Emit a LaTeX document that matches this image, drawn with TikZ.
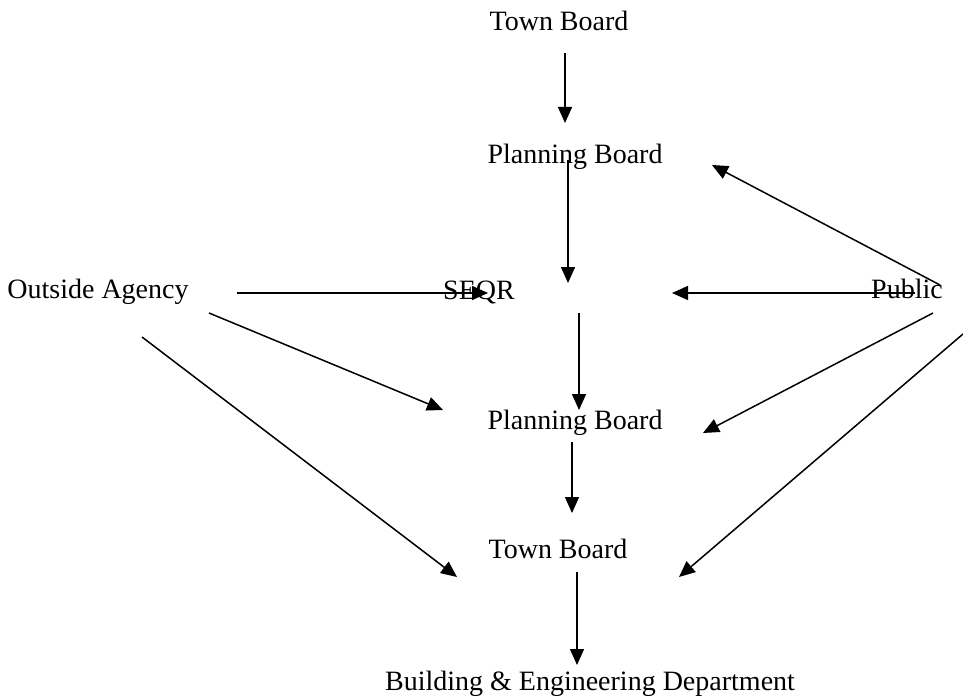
\documentclass[tikz,border=0pt]{standalone}
\usepackage{fontspec}
\setmainfont{Liberation Serif}
\usetikzlibrary{arrows.meta}
\tikzset{
  lbl/.style={anchor=base, inner sep=0pt, font=\fontsize{28}{34}\selectfont},
  flow/.style={line width=1.5pt, -{Triangle[length=16pt,width=14pt]}}
}
\begin{document}
\begin{tikzpicture}[x=1pt, y=-1pt]
  \useasboundingbox (0,0) rectangle (963,698);
  % labels
  \node[lbl] (tbA)    at (559,31)  {Town Board};
  \node[lbl] (pbA)    at (575,163) {Planning Board};
  \node[lbl] (seqr)   at (479,299) {SEQR};
  \node[lbl] (agency) at (98,298)  {Outside Agency};
  \node[lbl] (public) at (907,298) {Public};
  \node[lbl] (pbB)    at (575,429) {Planning Board};
  \node[lbl] (tbB)    at (558,558) {Town Board};
  \node[lbl] (bed)    at (590,690) {Building \& Engineering Department};
  % arrow ends
  \coordinate (a1s) at (565,53);  \coordinate (a1e) at (565,123);
  \coordinate (a2s) at (568,160); \coordinate (a2e) at (568,283);
  \coordinate (a3s) at (579,313); \coordinate (a3e) at (579,410);
  \coordinate (a4s) at (572,442); \coordinate (a4e) at (572,513);
  \coordinate (a5s) at (577,572); \coordinate (a5e) at (577,665);
  \coordinate (h1s) at (237,293); \coordinate (h1e) at (488,293);
  \coordinate (h2s) at (915,293); \coordinate (h2e) at (672,293);
  \coordinate (d1s) at (940,285); \coordinate (d1e) at (712,165);
  \coordinate (d2s) at (933,313); \coordinate (d2e) at (703,433);
  \coordinate (d3s) at (963,334); \coordinate (d3e) at (679,577);
  \coordinate (d4s) at (209,313); \coordinate (d4e) at (443,410);
  \coordinate (d5s) at (142,337); \coordinate (d5e) at (457,577);
  % arrows
  \draw[flow] (a1s) -- (a1e);
  \draw[flow] (a2s) -- (a2e);
  \draw[flow] (a3s) -- (a3e);
  \draw[flow] (a4s) -- (a4e);
  \draw[flow] (a5s) -- (a5e);
  \draw[flow] (h1s) -- (h1e);
  \draw[flow] (h2s) -- (h2e);
  \draw[flow] (d1s) -- (d1e);
  \draw[flow] (d2s) -- (d2e);
  \draw[flow] (d3s) -- (d3e);
  \draw[flow] (d4s) -- (d4e);
  \draw[flow] (d5s) -- (d5e);
\end{tikzpicture}
\end{document}
